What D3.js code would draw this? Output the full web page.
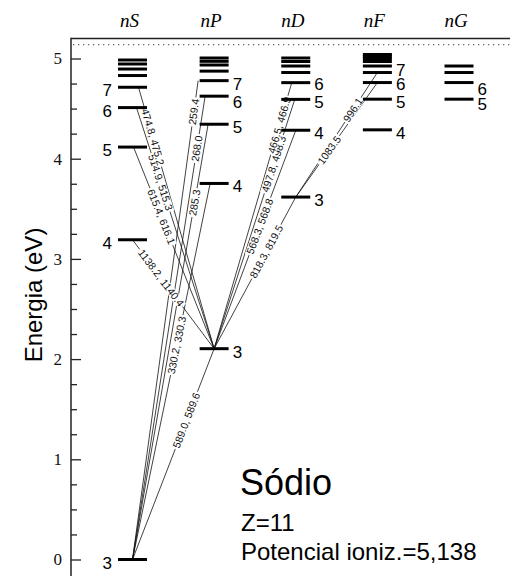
<!DOCTYPE html>
<html>
<head>
<meta charset="utf-8">
<title>Sódio</title>
<style>
  body { margin: 0; background: #fff; }
  svg { display: block; }
</style>
</head>
<body>
<script src="https://d3js.org/d3.v7.min.js"></script>
<svg id="grotrian" width="510" height="576"></svg>
<script>
// term series, one column each
const series = ['nS', 'nP', 'nD', 'nF', 'nG']

// energy levels (eV) per series, as [n, E]
const levelsS = [[3, 0], [4, 3.191], [5, 4.116], [6, 4.510], [7, 4.713], [8, 4.830], [9, 4.895], [10, 4.945], [11, 4.985]]
const levelsP = [[3, 2.104], [4, 3.753], [5, 4.344], [6, 4.624], [7, 4.779], [8, 4.874], [9, 4.935], [10, 4.972], [11, 5.005]]
const levelsD = [[3, 3.617], [4, 4.284], [5, 4.592], [6, 4.759], [7, 4.860], [8, 4.925], [9, 4.970], [10, 5.005]]
const levelsF = [[4, 4.288], [5, 4.594], [6, 4.760], [7, 4.860], [8, 4.925], [9, 4.970], [10, 5.000], [11, 5.022], [12, 5.040]]
const levelsG = [[5, 4.594], [6, 4.760], [7, 4.860], [8, 4.925]]

// n values that get a number next to the bar
const numberedS = [3, 4, 5, 6, 7]
const numberedP = [3, 4, 5, 6, 7]
const numberedD = [3, 4, 5, 6]
const numberedF = [4, 5, 6, 7]
const numberedG = [5, 6]

// transitions: lower series, lower n, upper series, upper n, wavelengths (nm)
const transitions = [
  ['nS', 3, 'nP', 3, '589.0, 589.6'],
  ['nS', 3, 'nP', 4, '330.2, 330.3'],
  ['nS', 3, 'nP', 5, '285.3'],
  ['nS', 3, 'nP', 6, '268.0'],
  ['nS', 3, 'nP', 7, '259.4'],
  ['nP', 3, 'nS', 4, '1138.2, 1140.4'],
  ['nP', 3, 'nS', 5, '615.4, 616.1'],
  ['nP', 3, 'nS', 6, '514.9, 515.3'],
  ['nP', 3, 'nS', 7, '474.8, 475.2'],
  ['nP', 3, 'nD', 3, '818.3, 819.5'],
  ['nP', 3, 'nD', 4, '568.3, 568.8'],
  ['nP', 3, 'nD', 5, '497.8, 498.3'],
  ['nP', 3, 'nD', 6, '466.5, 466.9'],
  ['nD', 3, 'nF', 6, '1083.5'],
  ['nD', 3, 'nF', 7, '996.1']
]

const yTicks = [0, 1, 2, 3, 4, 5]
const ionization = 5.138
const element = 'Sódio'
const atomicNumber = 'Z=11'
const ionizationText = 'Potencial ioniz.=5,138'

// ---- layout (not data) ----
// where along each line the label sits (0 = lower level, 1 = upper)
const labelAt = [0.66, 0.57, 0.82, 0.887, 0.935, 0.65, 0.655, 0.69, 0.81, 0.64, 0.56, 0.74, 0.84, 0.41, 0.70]
// the upper ends are spread a bit along the bar so lines don't pile up
const upperShift = [0, -4, -6, -9, -16, 0, 1, 4, 6, 0, 0, -1, -4, 0, 0]
// small vertical nudges of some level numbers
const numberNudge = { nP6: 2.4, nD6: -1.5, nF7: -5.5, nF6: -1.5, nG6: 3.5, nG5: 1.5 }

const svg = d3.select('#grotrian')
const levels = { nS: levelsS, nP: levelsP, nD: levelsD, nF: levelsF, nG: levelsG }
const numbered = { nS: numberedS, nP: numberedP, nD: numberedD, nF: numberedF, nG: numberedG }

const left = 71, right = 530
const y = d3.scaleLinear().domain([0, 5]).range([559.5, 58.5])
const x = d3.scalePoint().domain(series).range([132.5, 459])
const halfBar = 14.5

const energy = (s, n) => levels[s].find(d => d[0] === n)[1]

// frame: top edge and dotted ionization limit
svg.append('line')
  .attr('x1', left).attr('x2', right)
  .attr('y1', y(5.2)).attr('y2', y(5.2))
  .attr('stroke', '#222').attr('stroke-width', 1.5)

svg.append('line')
  .attr('x1', left + 2).attr('x2', right)
  .attr('y1', y(ionization)).attr('y2', y(ionization))
  .attr('stroke', '#666').attr('stroke-width', 1.3)
  .attr('stroke-dasharray', '1.3,3.7')

// y axis, ticks pointing inward
const yAxis = svg.append('g')
  .attr('transform', `translate(${left},0)`)
  .call(d3.axisLeft(y).tickValues(yTicks).tickFormat(d3.format('d'))
    .tickSizeInner(-10).tickSizeOuter(0).tickPadding(9))
yAxis.select('.domain').remove()
yAxis.selectAll('line').attr('stroke', '#222').attr('stroke-width', 1.3)
yAxis.selectAll('text')
  .attr('font-family', '"Liberation Serif", "Times New Roman", serif')
  .attr('font-size', 17).attr('fill', '#111')

const minor = d3.range(-0.25, 5.2, 0.25).filter(v => Math.abs(v - Math.round(v)) > 0.01)
const yMinor = svg.append('g')
  .attr('transform', `translate(${left},0)`)
  .call(d3.axisLeft(y).tickValues(minor).tickSizeInner(-6).tickSizeOuter(0).tickFormat(''))
yMinor.select('.domain').remove()
yMinor.selectAll('line').attr('stroke', '#222').attr('stroke-width', 1.3)

svg.append('line')
  .attr('x1', left).attr('x2', left)
  .attr('y1', y(5.2) - 0.75).attr('y2', 600)
  .attr('stroke', '#222').attr('stroke-width', 1.5)

svg.append('text')
  .attr('transform', `translate(42,295) rotate(-90)`)
  .attr('text-anchor', 'middle')
  .attr('font-family', '"Liberation Sans", Arial, sans-serif')
  .attr('font-size', 24)
  .text('Energia (eV)')

// column headers
svg.append('g').selectAll('text')
  .data(series)
  .join('text')
    .attr('x', d => x(d) - 3)
    .attr('y', 27)
    .attr('text-anchor', 'middle')
    .attr('font-family', '"Liberation Serif", "Times New Roman", serif')
    .attr('font-style', 'italic')
    .attr('font-size', 19)
    .text(d => d)

// transition lines
const segs = transitions.map((t, i) => {
  const x1 = x(t[0]), y1 = y(energy(t[0], t[1]))
  const x2 = x(t[2]) + upperShift[i], y2 = y(energy(t[2], t[3]))
  return { x1, y1, x2, y2, label: t[4], at: labelAt[i] }
})

svg.append('g').selectAll('line')
  .data(segs)
  .join('line')
    .attr('x1', d => d.x1).attr('y1', d => d.y1)
    .attr('x2', d => d.x2).attr('y2', d => d.y2)
    .attr('stroke', '#111').attr('stroke-width', 0.8)

// wavelength labels sitting on the lines
const lbl = svg.append('g').selectAll('g')
  .data(segs)
  .join('g')
    .attr('transform', d => {
      const px = d.x1 + d.at * (d.x2 - d.x1)
      const py = d.y1 + d.at * (d.y2 - d.y1)
      let a = Math.atan2(d.y2 - d.y1, d.x2 - d.x1) * 180 / Math.PI
      if (a > 90) a -= 180
      if (a < -90) a += 180
      return `translate(${px},${py}) rotate(${a})`
    })

lbl.append('rect').attr('fill', '#fff')
lbl.append('text')
  .attr('text-anchor', 'middle')
  .attr('dy', '0.35em')
  .attr('font-family', '"Liberation Sans", Arial, sans-serif')
  .attr('font-size', 10.5)
  .attr('fill', '#111')
  .text(d => d.label)

lbl.each(function () {
  const g = d3.select(this)
  const w = g.select('text').node().getComputedTextLength()
  g.select('rect')
    .attr('x', -w / 2 - 1.5).attr('width', w + 3)
    .attr('y', -4.5).attr('height', 9)
})

// level bars
series.forEach(s => {
  svg.append('g').selectAll('line')
    .data(levels[s])
    .join('line')
      .attr('x1', x(s) - halfBar).attr('x2', x(s) + halfBar)
      .attr('y1', d => y(d[1])).attr('y2', d => y(d[1]))
      .attr('stroke', '#000').attr('stroke-width', 3)

  const onLeft = s === 'nS'
  svg.append('g').selectAll('text')
    .data(levels[s].filter(d => numbered[s].includes(d[0])))
    .join('text')
      .attr('x', onLeft ? x(s) - halfBar - 6 : x(s) + halfBar + 4)
      .attr('y', d => y(d[1]) + 9 + (numberNudge[s + d[0]] || 0))
      .attr('text-anchor', onLeft ? 'end' : 'start')
      .attr('font-family', '"Liberation Sans", Arial, sans-serif')
      .attr('font-size', 17)
      .text(d => d[0])
})

// element info
const info = svg.append('g')
  .attr('font-family', '"Liberation Sans", Arial, sans-serif')
info.append('text').attr('x', 240).attr('y', 495).attr('font-size', 36).text(element)
info.append('text').attr('x', 241).attr('y', 531).attr('font-size', 24).text(atomicNumber)
info.append('text').attr('x', 241).attr('y', 560).attr('font-size', 24).text(ionizationText)
</script>
</body>
</html>
